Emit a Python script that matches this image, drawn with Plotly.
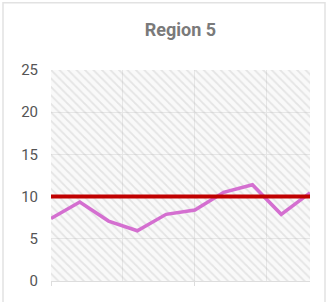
import plotly.graph_objects as go

# Data
x_index = [0, 1, 2, 3, 4, 5, 6, 7, 8, 9]
series_values = [7.4, 9.35, 7.1, 5.95, 7.9, 8.4, 10.5, 11.4, 7.9, 10.45]
threshold = 10
y_ticks = [0, 5, 10, 15, 20, 25]
y_max = 25
title_text = "Region 5"

fig = go.Figure()

# hatched background band covering the plotting region
fig.add_trace(go.Bar(
    x=[(x_index[0] + x_index[-1]) / 2], y=[y_max],
    width=[x_index[-1] - x_index[0]],
    marker=dict(color="rgba(0,0,0,0)", line=dict(width=0),
                pattern=dict(shape="\\", fgcolor="rgba(170,170,170,0.55)",
                             bgcolor="rgba(235,235,235,0.3)", size=6, solidity=0.3)),
    hoverinfo="skip", showlegend=False,
))

fig.add_trace(go.Scatter(
    x=x_index, y=series_values, mode="lines",
    line=dict(color="#d46fd0", width=3.5), showlegend=False,
))

fig.add_trace(go.Scatter(
    x=[x_index[0], x_index[-1]], y=[threshold, threshold], mode="lines",
    line=dict(color="#c00000", width=4), showlegend=False,
))

fig.update_layout(
    width=327, height=302,
    margin=dict(l=51, r=17, t=70, b=19),
    paper_bgcolor="white", plot_bgcolor="white",
    title=dict(text="<b>" + title_text + "</b>", x=0.5, xref="paper", xanchor="center",
               y=1 - 30 / 302, yanchor="middle", yref="container",
               font=dict(family="Roboto, Open Sans, sans-serif", size=18, color="#7a7a7a")),
    font=dict(family="Roboto, Open Sans, sans-serif", color="#555555"),
    bargap=0,
    shapes=[dict(type="rect", xref="paper", yref="paper",
                 x0=(3 - 51) / 259, x1=(325 - 51) / 259,
                 y0=(283 - 310) / 213, y1=(283 - 2) / 213,
                 line=dict(color="#e2e2e2", width=1.5), fillcolor="rgba(0,0,0,0)",
                 layer="below")],
)

fig.update_xaxes(
    range=[x_index[0], x_index[-1]], showticklabels=False,
    tickmode="array", tickvals=[0, 5],
    ticks="outside", ticklen=4, tickcolor="#dddddd",
    showgrid=True, gridcolor="#e4e4e4",
    minor=dict(tickmode="array", tickvals=[2.5, 7.5], showgrid=True, gridcolor="#e4e4e4", ticks=""),
    showline=True, linecolor="#dddddd", zeroline=False,
)
fig.update_yaxes(
    range=[0, y_max], tickmode="array", tickvals=y_ticks,
    showgrid=True, gridcolor="#e4e4e4", zeroline=False,
    tickfont=dict(size=15, color="#555555"), ticklabelstandoff=12,
    showline=False,
)

fig.write_html("out.html", config={"displayModeBar": False},
               post_script="document.body.style.margin='0';")
